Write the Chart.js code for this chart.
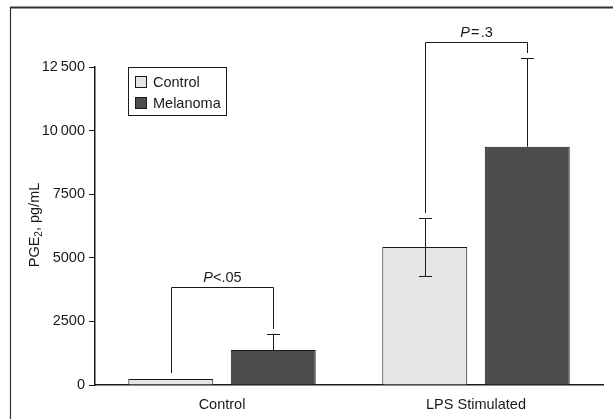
<!DOCTYPE html>
<html>
<head>
<meta charset="utf-8">
<script src="https://cdn.jsdelivr.net/npm/chart.js@4.4.1/dist/chart.umd.min.js"></script>
<style>
  body { margin: 0; background: #fff; }
  canvas { display: block; }
</style>
</head>
<body>
<canvas id="chart" width="613" height="419"></canvas>
<script>
const categories = ['Control', 'LPS Stimulated'];
const seriesNames = ['Control', 'Melanoma'];
const controlValues = [240, 5420];
const melanomaValues = [1375, 9370];
const controlErrUp = [0, 1140];
const controlErrDown = [0, 1140];
const melanomaErrUp = [640, 3475];
const melanomaErrDown = [0, 0];
const yTicks = [0, 2500, 5000, 7500, 10000, 12500];
// significance brackets, one per category
const bracketTop = [3860, 13500];
const bracketLeftEnd = [470, 6760];
const bracketRightEnd = [2200, 13050];
const pLabels = [['P', '<.05'], ['P', '\u200A=\u200A.3']];

const FONT = "'Liberation Sans', Arial, sans-serif";
const FS = 14.5;
const INK = '#1a1a1a';
const colors = ['#e5e5e5', '#4d4d4d'];
const errUp = [controlErrUp, melanomaErrUp];
const errDown = [controlErrDown, melanomaErrDown];

function fmtTick(v) {
  const s = String(v);
  return v >= 10000 ? s.replace(/(\d{3})$/, '\u2009$1') : s;
}

const frame = {
  id: 'frame',
  beforeDraw(chart) {
    const ctx = chart.ctx;
    ctx.save();
    ctx.strokeStyle = '#333';
    ctx.lineWidth = 2;
    ctx.beginPath();
    ctx.moveTo(10, 7.5); ctx.lineTo(chart.width, 7.5);
    ctx.stroke();
    ctx.lineWidth = 1.2;
    ctx.beginPath();
    ctx.moveTo(10.5, 7); ctx.lineTo(10.5, chart.height);
    ctx.stroke();
    ctx.restore();
  }
};

const extras = {
  id: 'extras',
  afterDraw(chart) {
    const ctx = chart.ctx;
    const y = chart.scales.y;
    ctx.save();
    ctx.strokeStyle = INK;
    ctx.lineWidth = 1;

    // error bars
    chart.data.datasets.forEach((ds, i) => {
      chart.getDatasetMeta(i).data.forEach((bar, j) => {
        const v = ds.data[j];
        const up = errUp[i][j], down = errDown[i][j];
        if (!up && !down) return;
        const x = Math.round(bar.x) + 0.5;
        const yTop = y.getPixelForValue(v + up);
        const yBot = y.getPixelForValue(v - down);
        ctx.beginPath();
        ctx.moveTo(x, yTop); ctx.lineTo(x, yBot);
        if (up) { ctx.moveTo(x - 6.5, Math.round(yTop) + 0.5); ctx.lineTo(x + 6.5, Math.round(yTop) + 0.5); }
        if (down) { ctx.moveTo(x - 6.5, Math.round(yBot) + 0.5); ctx.lineTo(x + 6.5, Math.round(yBot) + 0.5); }
        ctx.stroke();
      });
    });

    // brackets + P values
    const m0 = chart.getDatasetMeta(0).data;
    const m1 = chart.getDatasetMeta(1).data;
    categories.forEach((c, j) => {
      const xl = Math.round(m0[j].x) + 0.5;
      const xr = Math.round(m1[j].x) + 0.5;
      const yt = Math.round(y.getPixelForValue(bracketTop[j])) + 0.5;
      ctx.beginPath();
      ctx.moveTo(xl, y.getPixelForValue(bracketLeftEnd[j]));
      ctx.lineTo(xl, yt);
      ctx.lineTo(xr, yt);
      ctx.lineTo(xr, y.getPixelForValue(bracketRightEnd[j]));
      ctx.stroke();

      const [p, rest] = pLabels[j];
      ctx.fillStyle = INK;
      ctx.textBaseline = 'alphabetic';
      ctx.textAlign = 'left';
      ctx.font = `italic ${FS}px ${FONT}`;
      const wp = ctx.measureText(p).width;
      ctx.font = `${FS}px ${FONT}`;
      const wr = ctx.measureText(rest).width;
      let tx = (xl + xr) / 2 - (wp + wr) / 2;
      ctx.font = `italic ${FS}px ${FONT}`;
      ctx.fillText(p, tx, yt - 6);
      ctx.font = `${FS}px ${FONT}`;
      ctx.fillText(rest, tx + wp, yt - 6);
    });

    // legend box
    ctx.lineWidth = 1;
    ctx.strokeStyle = INK;
    ctx.strokeRect(128.5, 67.5, 98, 48);
    chart.data.datasets.forEach((ds, i) => {
      const sy = 76.5 + i * 21;
      ctx.fillStyle = ds.backgroundColor;
      ctx.fillRect(135.5, sy, 11, 11);
      ctx.strokeRect(135.5, sy, 11, 11);
      ctx.fillStyle = INK;
      ctx.font = `${FS}px ${FONT}`;
      ctx.textBaseline = 'middle';
      ctx.fillText(ds.label, 153, sy + 6);
    });

    // y title with subscript
    ctx.translate(39, 225);
    ctx.rotate(-Math.PI / 2);
    ctx.textBaseline = 'alphabetic';
    ctx.font = `${FS}px ${FONT}`;
    const a = 'PGE', b = ', pg/mL';
    const wa = ctx.measureText(a).width, wb = ctx.measureText(b).width;
    ctx.font = '10px ' + FONT;
    const ws = ctx.measureText('2').width;
    let tx = -(wa + ws + wb) / 2;
    ctx.font = `${FS}px ${FONT}`;
    ctx.fillText(a, tx, 0);
    ctx.font = '10px ' + FONT;
    ctx.fillText('2', tx + wa, 3);
    ctx.font = `${FS}px ${FONT}`;
    ctx.fillText(b, tx + wa + ws, 0);
    ctx.restore();
  }
};

new Chart(document.getElementById('chart'), {
  type: 'bar',
  data: {
    labels: categories,
    datasets: [
      { label: seriesNames[0], data: controlValues, backgroundColor: colors[0] },
      { label: seriesNames[1], data: melanomaValues, backgroundColor: colors[1] },
    ],
  },
  options: {
    responsive: false,
    animation: false,
    layout: { padding: { top: 67, right: 10, left: 0, bottom: 0 } },
    datasets: {
      bar: {
        borderColor: INK, borderWidth: 1,
        categoryPercentage: 0.807, barPercentage: 0.829,
      },
    },
    plugins: { legend: { display: false }, tooltip: { enabled: false } },
    scales: {
      x: {
        grid: { display: false },
        border: { display: true, color: INK, width: 1.5 },
        ticks: { color: INK, padding: 3, font: { family: FONT, size: FS } },
        afterFit: s => { s.height = 34; },
      },
      y: {
        min: 0, max: 12500,
        afterBuildTicks: s => { s.ticks = yTicks.map(v => ({ value: v })); },
        grid: { drawOnChartArea: false, drawTicks: true, tickLength: 6, color: INK, lineWidth: 1 },
        border: { display: true, color: INK, width: 1.5 },
        ticks: { color: INK, padding: 4, font: { family: FONT, size: FS }, callback: v => fmtTick(v) },
        afterFit: s => { s.width = 95; },
      },
    },
  },
  plugins: [frame, extras],
});
</script>
</body>
</html>
